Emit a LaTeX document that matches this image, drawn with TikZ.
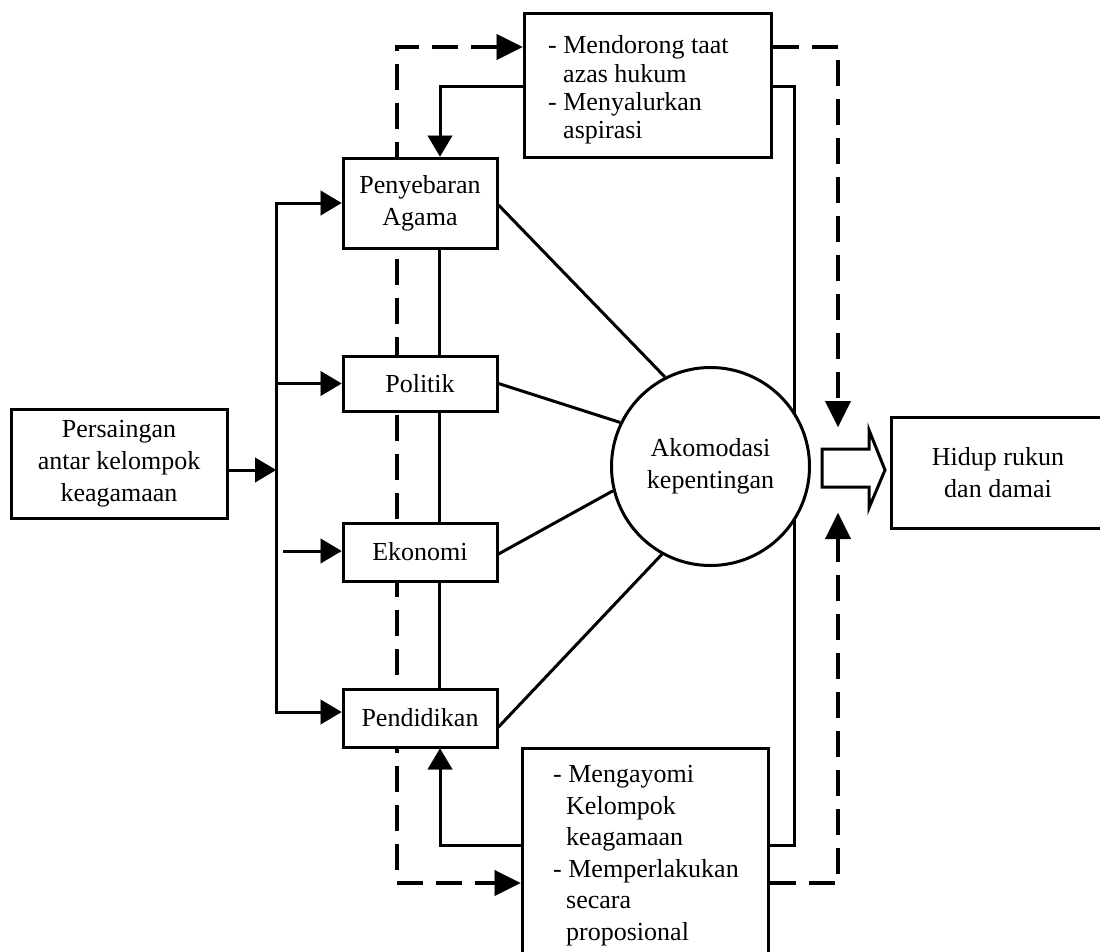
\documentclass[tikz,border=0pt]{standalone}
\usepackage{fontspec}
\setmainfont{Liberation Serif}
\usetikzlibrary{arrows.meta,backgrounds,calc}
\begin{document}
\begin{tikzpicture}[x=1pt,y=-1pt,
  box/.style={draw,line width=3pt,fill=white,inner sep=0pt,align=center,font=\fontsize{26}{32}\selectfont},
  txt/.style={inner sep=0pt,align=left,anchor=north west},
  conn/.style={line width=3pt,line join=miter},
  arr/.style={conn,-{Triangle[length=21pt,width=25pt,line width=0.1pt]}},
  arrboth/.style={conn,{Triangle[length=21pt,width=25pt,line width=0.1pt]}-{Triangle[length=21pt,width=25pt,line width=0.1pt]}},
  dsh/.style={line width=3.5pt,dash pattern=on 26pt off 13pt,line join=miter},
  darr/.style={dsh,-{Triangle[length=26pt,width=26pt,line width=0.1pt]}},
  darrboth/.style={dsh,{Triangle[length=26pt,width=26pt,line width=0.1pt]}-{Triangle[length=26pt,width=26pt,line width=0.1pt]}}]
\useasboundingbox (0,0) rectangle (1100,951);

% nodes
\node[box,minimum width=216pt,minimum height=109pt] (ps) at (119,463.5) {Persaingan\\antar kelompok\\keagamaan};
\node[box,minimum width=154pt,minimum height=90pt] (pa) at (420,203) {Penyebaran\\Agama};
\node[box,minimum width=154pt,minimum height=55pt] (po) at (420,383.5) {Politik};
\node[box,minimum width=154pt,minimum height=58pt] (ek) at (420,552) {Ekonomi};
\node[box,minimum width=154pt,minimum height=58pt] (pe) at (420,718) {Pendidikan};
\node[box,circle,minimum size=198pt] (ak) at (710.5,466.5) {Akomodasi\\kepentingan};
\node[box,minimum width=214pt,minimum height=111pt] (hr) at (998,472.5) {Hidup rukun\\dan damai};
\node[box,minimum width=247pt,minimum height=144pt] (tb) at (647.5,85) {};
\node[txt,font=\fontsize{26}{28.4}\selectfont] (tbt) at (548,35.5)
  {- Mendorong taat\\\hspace*{15pt}azas hukum\\- Menyalurkan\\\hspace*{15pt}aspirasi};
\node[box,minimum width=246pt,minimum height=217pt] (bb) at (645,856.5) {};
\node[txt,font=\fontsize{26}{31.5}\selectfont] (bbt) at (553,765.5)
  {- Mengayomi\\\hspace*{13pt}Kelompok\\\hspace*{13pt}keagamaan\\- Memperlakukan\\\hspace*{13pt}secara\\\hspace*{13pt}proposional};

% block arrow
\draw[line width=3pt,fill=white,line join=miter] (822,449) -- (869,449) -- (869,430) -- (885,470) -- (869,508) -- (869,487) -- (822,487) -- cycle;

% helper coordinates
\coordinate (bustop) at (276,203);
\coordinate (busmid) at (276,383.5);
\coordinate (busin) at (276,470);
\coordinate (busbot) at (276,712);
\coordinate (ekin) at (283,551);
\coordinate (vx) at (439,0);
\coordinate (ax) at (440,0);
\coordinate (tsol) at (0,86);
\coordinate (bsol) at (0,845);
\coordinate (rsol) at (794,0);
\coordinate (tdash) at (0,47);
\coordinate (bdash) at (0,883);
\coordinate (ldash) at (397,0);
\coordinate (dtop) at (838,427);
\coordinate (dbot) at (838,513);

\begin{scope}[on background layer]
\draw[arrboth] (pa.west) -- (bustop) -- (busbot) -- (busbot -| pe.west);
\draw[arr] (busmid) -- (po.west);
\draw[arr] (busin -| ps.east) -- (busin);
\draw[arr] (ekin) -- (ekin -| ek.west);
\draw[conn] (pa.south -| vx) -- (po.north -| vx);
\draw[conn] (po.south -| vx) -- (ek.north -| vx);
\draw[conn] (ek.south -| vx) -- (pe.north -| vx);
\draw[arr] (bb.west |- bsol) -| (pe.south -| ax);
\draw[arr] (tb.west |- tsol) -| (pa.north -| ax);
\draw[conn] (tb.east |- tsol) -| (rsol |- bsol) -- (bb.east |- bsol);
\draw[darrboth] (tb.west |- tdash) -| (ldash |- bdash) -- (bb.west |- bdash);
\draw[darr] (tb.east |- tdash) -| (dtop);
\draw[darr] (bb.east |- bdash) -| (dbot);
\draw[conn] (pa.east |- 0,205) -- (ak.117);
\draw[conn] (po.east) -- (ak.154);
\draw[conn] (ek.east |- 0,554) -- (ak.194);
\draw[conn] (pe.east |- 0,727) -- (ak.241);
\end{scope}
\end{tikzpicture}
\end{document}
